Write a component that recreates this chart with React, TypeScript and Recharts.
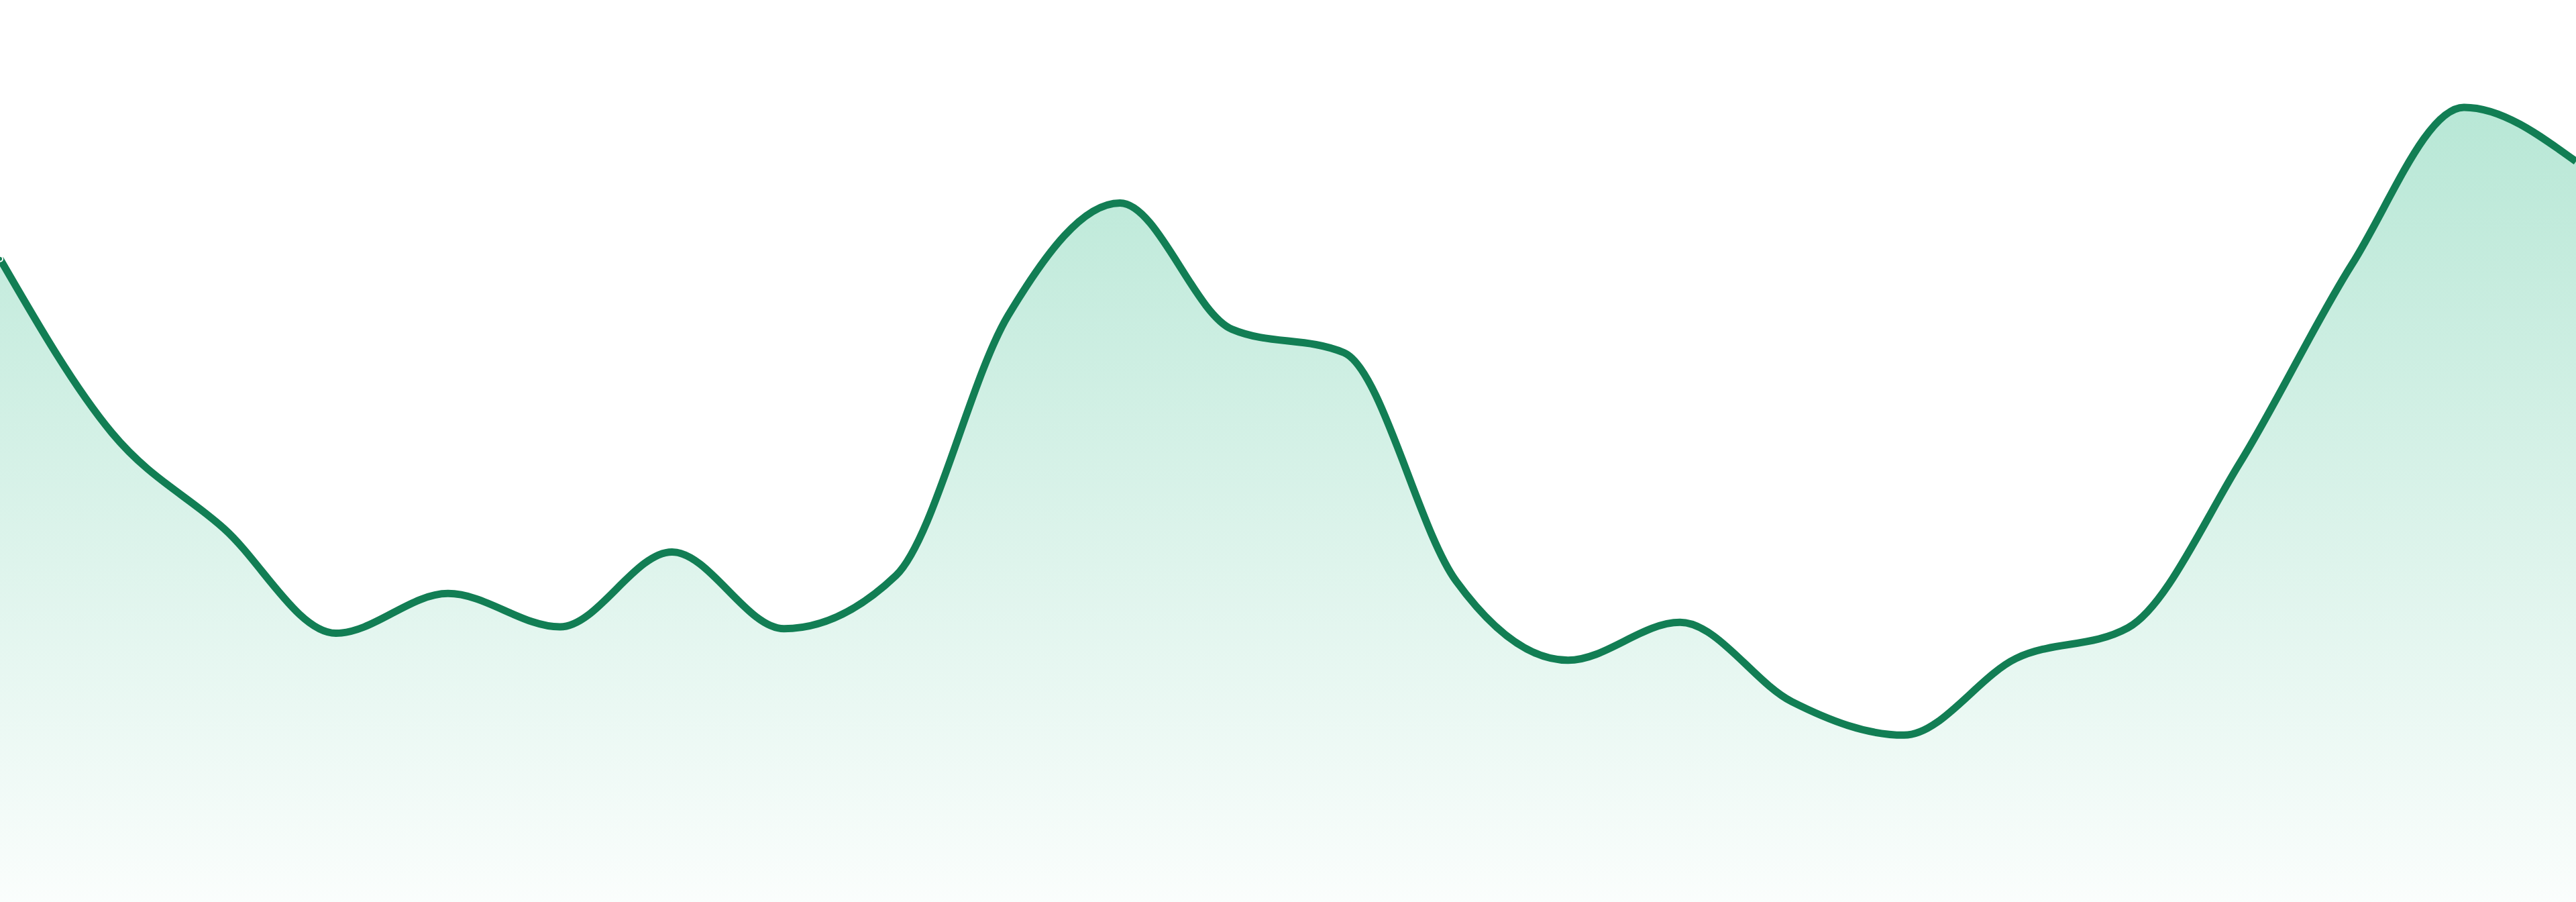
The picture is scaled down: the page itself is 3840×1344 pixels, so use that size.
import { AreaChart, Area, XAxis, YAxis } from 'recharts';

// 24 evenly spaced samples, edge to edge, no axes shown
const weeks = [
  'W1', 'W2', 'W3', 'W4', 'W5', 'W6', 'W7', 'W8', 'W9', 'W10', 'W11', 'W12',
  'W13', 'W14', 'W15', 'W16', 'W17', 'W18', 'W19', 'W20', 'W21', 'W22', 'W23', 'W24',
];

const activity = [
  71.3, 52.0, 41.4, 29.8, 34.2, 30.5, 38.8, 30.3, 36.2, 65.0, 77.5, 63.5,
  60.9, 35.6, 26.8, 31.0, 22.2, 18.5, 27.0, 30.4, 48.7, 70.7, 88.1, 82.1,
];

const data = weeks.map((week, i) => ({ week, value: activity[i] }));

export default function App() {
  return (
    <div style={{ position: 'absolute', left: 0, top: 0 }}>
      <AreaChart width={3840} height={1344} data={data} margin={{ top: 0, right: 0, bottom: 0, left: 0 }}>
        <defs>
          <linearGradient id="fillGreen" x1="0" y1="0" x2="0" y2="1">
            <stop offset="0%" stopColor="#12b076" stopOpacity={0.3} />
            <stop offset="100%" stopColor="#12b076" stopOpacity={0.02} />
          </linearGradient>
        </defs>
        <XAxis dataKey="week" hide />
        <YAxis hide domain={[0, 100]} />
        <Area
          type="monotone"
          dataKey="value"
          stroke="#127e54"
          strokeWidth={11}
          fill="url(#fillGreen)"
          fillOpacity={1}
          isAnimationActive={false}
        />
      </AreaChart>
    </div>
  );
}
